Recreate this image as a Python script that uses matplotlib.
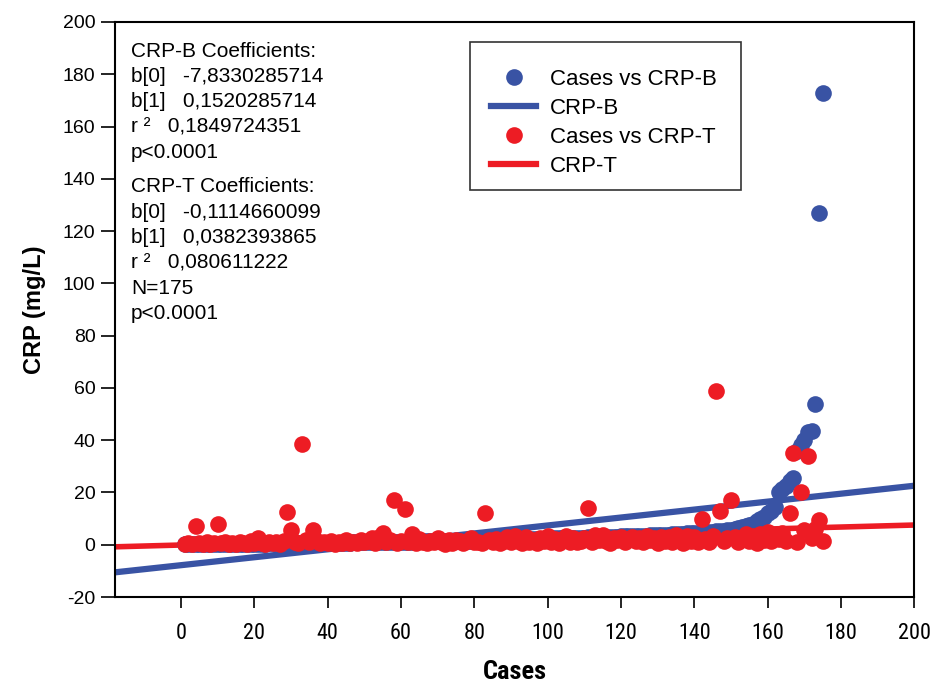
import matplotlib
matplotlib.use("Agg")
import matplotlib.pyplot as plt
from matplotlib.lines import Line2D
from matplotlib.patches import Rectangle
from matplotlib import font_manager as fm
import numpy as np

# ---------------- data ----------------
cases = list(range(1, 176))

crp_b = [
    0.1, 0.1, 0.1, 0.1, 0.2, 0.2, 0.2, 0.2, 0.2, 0.3, 0.3, 0.3, 0.3, 0.3, 0.3, 0.3, 0.4, 0.4, 0.4, 0.4,
    0.4, 0.4, 0.4, 0.5, 0.5, 0.5, 0.5, 0.5, 0.5, 0.5, 0.6, 0.6, 0.6, 0.6, 0.6, 0.7, 0.7, 0.7, 0.7, 0.7,
    0.7, 0.8, 0.8, 0.8, 0.8, 0.8, 0.9, 0.9, 0.9, 0.9, 1.0, 1.0, 1.0, 1.0, 1.0, 1.1, 1.1, 1.1, 1.1, 1.2,
    1.2, 1.2, 1.2, 1.3, 1.3, 1.3, 1.3, 1.4, 1.4, 1.4, 1.4, 1.5, 1.5, 1.5, 1.5, 1.6, 1.6, 1.6, 1.6, 1.7,
    1.7, 1.7, 1.8, 1.8, 1.8, 1.9, 1.9, 1.9, 2.0, 2.0, 2.0, 2.1, 2.1, 2.1, 2.2, 2.2, 2.2, 2.3, 2.3, 2.4,
    2.4, 2.4, 2.5, 2.5, 2.5, 2.6, 2.6, 2.7, 2.7, 2.7, 2.8, 2.8, 2.9, 2.9, 3.0, 3.0, 3.0, 3.1, 3.1, 3.2,
    3.2, 3.3, 3.3, 3.4, 3.4, 3.5, 3.5, 3.6, 3.6, 3.7, 3.8, 3.8, 3.9, 4.0, 4.0, 4.1, 4.2, 4.3, 4.4, 4.5,
    4.6, 4.7, 4.8, 4.9, 5.0, 5.1, 5.2, 5.4, 5.6, 5.8, 6.0, 6.3, 6.6, 7.0,
    7.5, 8.0, 9.0, 10.0, 10.5, 12.0, 13.0, 14.5, 20.0, 21.5, 22.5, 24.5, 25.5, 36.0, 38.0, 40.0, 43.0,
    43.5, 54.0, 127.0, 173.0,
]

crp_t = [
    0.2, 0.5, 0.3, 7.0, 0.8, 0.4, 1.0, 0.3, 0.6, 8.0,
    0.5, 1.2, 0.3, 0.8, 0.4, 1.0, 0.6, 0.2, 1.4, 0.5,
    2.5, 0.7, 0.3, 1.1, 0.6, 0.9, 0.4, 1.5, 12.5, 5.5,
    1.2, 0.6, 38.5, 1.8, 0.9, 5.5, 1.3, 0.5, 1.0, 0.7,
    1.5, 0.4, 1.2, 0.8, 2.0, 0.6, 1.1, 0.5, 1.7, 0.9,
    1.3, 2.6, 0.7, 3.0, 4.5, 1.0, 1.8, 17.0, 0.6, 1.4,
    13.5, 1.2, 4.0, 0.8, 2.2, 1.0, 0.5, 1.6, 0.9, 2.5,
    1.1, 0.4, 1.7, 0.8, 2.0, 1.3, 0.6, 1.5, 2.4, 0.9,
    1.2, 0.7, 12.0, 1.8, 1.0, 2.2, 0.6, 1.4, 2.8, 0.9,
    3.3, 1.6, 0.8, 3.0, 1.2, 2.0, 0.7, 2.6, 1.5, 3.2,
    1.0, 2.3, 0.6, 1.8, 3.5, 1.2, 2.7, 0.9, 1.6, 2.4,
    14.0, 1.1, 3.6, 2.0, 3.8, 1.4, 0.8, 2.5, 1.7, 3.1,
    1.0, 2.2, 3.0, 1.3, 2.6, 0.9, 3.4, 1.8, 2.4, 0.7,
    3.0, 1.5, 2.8, 1.1, 3.6, 2.0, 0.8, 3.2, 1.6, 2.9,
    1.2, 10.0, 2.2, 0.9, 3.3, 59.0, 13.0, 1.4, 2.7, 17.0,
    3.0, 1.0, 2.4, 4.0, 1.6, 3.5, 0.8, 4.2, 2.0, 5.0,
    1.3, 3.0, 2.2, 4.5, 1.5, 12.0, 35.0, 1.0, 20.0, 5.5,
    34.0, 2.5, 6.0, 9.5, 1.5,
]

# regression coefficients (b0, b1) as printed on the chart
coef_b = [-7.8330285714, 0.1520285714]
coef_t = [-0.1114660099, 0.0382393865]

x_ticks = [0, 20, 40, 60, 80, 100, 120, 140, 160, 180, 200]
y_ticks = [-20, 0, 20, 40, 60, 80, 100, 120, 140, 160, 180, 200]

annot_b = "CRP-B Coefficients:\nb[0]   -7,8330285714\nb[1]   0,1520285714\nr \u00b2   0,1849724351\np<0.0001"
annot_t = "CRP-T Coefficients:\nb[0]   -0,1114660099\nb[1]   0,0382393865\nr \u00b2   0,080611222\nN=175\np<0.0001"

# ---------------- style ----------------
BLUE = "#3953A4"
RED = "#ED1C24"
names = {f.name for f in fm.fontManager.ttflist}
MAIN = "Liberation Sans" if "Liberation Sans" in names else "DejaVu Sans"
plt.rcParams["font.family"] = [MAIN, "DejaVu Sans"]
plt.rcParams["axes.unicode_minus"] = False


def find_font(prefs):
    for pref in prefs:
        for f in fm.fontManager.ttflist:
            if pref.lower() in f.fname.lower().replace(" ", ""):
                return f.fname
    return None


narrow_path = find_font(["LiberationSansNarrow-Regular", "RobotoCondensed-Regular",
                         "DejaVuSansCondensed.ttf", "OpenSans_Condensed-Regular"])
narrow_bold_path = find_font(["LiberationSansNarrow-Bold.", "RobotoCondensed-Bold.",
                              "DejaVuSansCondensed-Bold.", "OpenSans_Condensed-Bold."])

fig = plt.figure(figsize=(9.34, 6.87), dpi=100)
ax = fig.add_axes([0.123, 0.131, 0.856, 0.837])

xlim = (-18, 200)
ax.set_xlim(*xlim)
ax.set_ylim(-20, 200)

xl = np.array(xlim, dtype=float)
ax.plot(xl, coef_b[0] + coef_b[1] * xl, color=BLUE, lw=4.5, solid_capstyle="butt", zorder=2)
ax.plot(xl, coef_t[0] + coef_t[1] * xl, color=RED, lw=4.0, solid_capstyle="butt", zorder=2)
ax.plot(cases, crp_b, "o", color=BLUE, ms=12, mec="none", zorder=3, clip_on=False)
ax.plot(cases, crp_t, "o", color=RED, ms=12, mec="none", zorder=4, clip_on=False)

ax.set_xticks(x_ticks)
ax.set_yticks(y_ticks)
ax.tick_params(axis="x", direction="out", length=8, width=1.2, pad=11, labelsize=15)
ax.tick_params(axis="y", direction="out", length=10, width=1.2, pad=4, labelsize=14)
if narrow_path:
    fp = fm.FontProperties(fname=narrow_path, size=16)
    for lab in ax.get_xticklabels():
        lab.set_fontproperties(fp)
for s in ax.spines.values():
    s.set_linewidth(1.5)

if narrow_bold_path:
    ax.set_xlabel("Cases", fontproperties=fm.FontProperties(fname=narrow_bold_path, size=19), labelpad=11)
else:
    ax.set_xlabel("Cases", fontsize=17, fontweight="bold", labelpad=11)
ax.set_ylabel("CRP (mg/L)", fontsize=17, fontweight="bold", labelpad=12)

ax.text(0.02, 0.966, annot_b, transform=ax.transAxes, va="top", ha="left",
        fontsize=15, linespacing=1.43)
ax.text(0.02, 0.730, annot_t, transform=ax.transAxes, va="top", ha="left",
        fontsize=15, linespacing=1.43)

# legend frame drawn separately for exact placement
ax.add_patch(Rectangle((0.4443, 0.7078), 0.7835 - 0.4443, 0.9652 - 0.7078,
                       transform=ax.transAxes, facecolor="white", edgecolor="#333333",
                       linewidth=1.2, zorder=5))
handles = [
    Line2D([], [], ls="none", marker="o", ms=12, color=BLUE, mec="none"),
    Line2D([], [], color=BLUE, lw=4.5),
    Line2D([], [], ls="none", marker="o", ms=12, color=RED, mec="none"),
    Line2D([], [], color=RED, lw=4.5),
]
labels = ["Cases vs CRP-B", "CRP-B", "Cases vs CRP-T", "CRP-T"]
leg = ax.legend(handles, labels, loc="upper left", bbox_to_anchor=(0.4431, 0.9565),
                borderaxespad=0, fontsize=16, frameon=False,
                handlelength=2.0, handletextpad=0.65,
                labelspacing=0.35, borderpad=1.0)
leg.set_zorder(6)

fig.savefig("out.png", dpi=100)
